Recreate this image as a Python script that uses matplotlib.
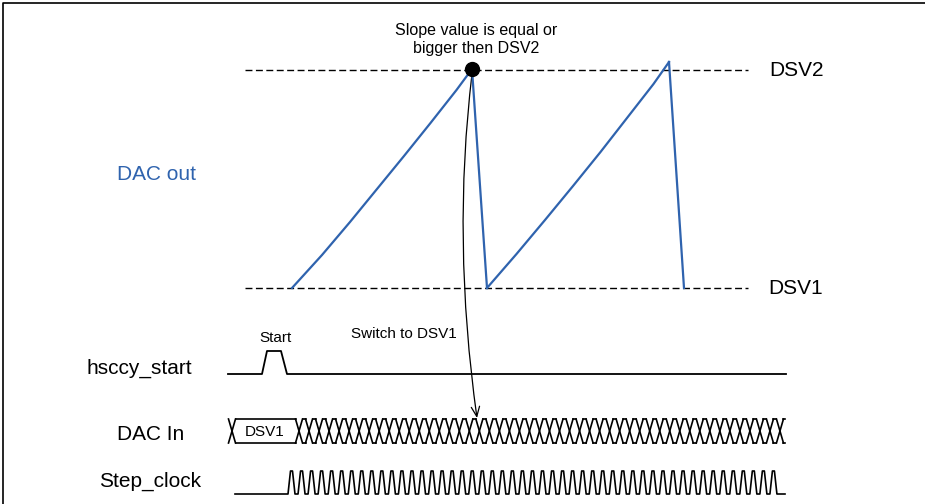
import numpy as np
import matplotlib.pyplot as plt
from matplotlib.path import Path
from matplotlib.patches import FancyArrowPatch

plt.rcParams['font.family'] = ['Liberation Sans', 'DejaVu Sans']

BLUE = '#2F63AE'

# levels (pixel rows of the drawing)
dsv2_y = 70
dsv1_y = 288
level_x = [245, 748]

# DAC out ramps (x, y)
ramp1_x = [292, 322, 350, 377, 404, 430.5, 456.5, 472]
ramp1_y = [288, 255, 222, 189, 156, 123, 90, 69]
drop1_x = [472, 487]
drop1_y = [69, 288]
ramp2_x = [487, 516.5, 545, 573, 600.5, 627, 653.5, 669]
ramp2_y = [288, 254, 220, 186, 152, 118, 84, 62]
drop2_x = [669, 684]
drop2_y = [62, 288]

# hsccy_start pulse
start_x = [228, 262, 267, 281, 287, 786]
start_y = [374, 374, 351, 351, 374, 374]

# DAC In bus
bus_top, bus_bot = 419, 443
bus_first = 299
bus_period = 10.02
bus_n = 49
bus_end = 785

# Step_clock
clk_low, clk_high = 494, 471
clk_start = 288
clk_period = 10.04
clk_n = 49

fig = plt.figure(figsize=(9.25, 5.04), dpi=100)
ax = fig.add_axes([0, 0, 1, 1])
ax.set_xlim(0, 925)
ax.set_ylim(504, 0)
ax.axis('off')

# frame
ax.plot([3, 3, 925], [504, 3, 3], color='black', lw=1.2)

# dashed levels
for yy in (dsv2_y, dsv1_y):
    ax.plot(level_x, [yy, yy], color='black', lw=1.0, dashes=(5, 2.5))
ax.text(769, dsv2_y + 1, 'DSV2', fontsize=15, va='center', ha='left')
ax.text(768, dsv1_y + 1, 'DSV1', fontsize=15, va='center', ha='left')

# DAC out
for xs, ys in ((ramp1_x, ramp1_y), (drop1_x, drop1_y), (ramp2_x, ramp2_y), (drop2_x, drop2_y)):
    ax.plot(xs, ys, color=BLUE, lw=1.6, solid_joinstyle='round')
ax.text(117, 174, 'DAC out', fontsize=15, color=BLUE, va='center', ha='left')

ax.plot([472], [69], 'o', color='black', ms=10)
ax.text(476, 30, 'Slope value is equal or', fontsize=11.5, ha='center', va='center')
ax.text(476, 49, 'bigger then DSV2', fontsize=11.5, ha='center', va='center')

# curved arrow
arrow_path = Path([(472, 74), (452, 240), (477, 418)], [Path.MOVETO, Path.CURVE3, Path.CURVE3])
ax.add_patch(FancyArrowPatch(path=arrow_path, arrowstyle='->,head_length=7,head_width=3',
                             color='black', lw=0.9))

# hsccy_start
ax.plot(start_x, start_y, color='black', lw=1.3)
ax.text(275, 338, 'Start', fontsize=11, ha='center', va='center')
ax.text(351, 334, 'Switch to DSV1', fontsize=11, ha='left', va='center')
ax.text(86, 368, 'hsccy_start', fontsize=15, ha='left', va='center')

# DAC In bus
hw = 3.5
crosses = [232] + [bus_first + k * bus_period for k in range(bus_n)]
for c in crosses:
    ax.plot([c - hw, c + hw], [bus_top, bus_bot], color='black', lw=1.2)
    ax.plot([c - hw, c + hw], [bus_bot, bus_top], color='black', lw=1.2)
for a, b in zip(crosses[:-1], crosses[1:]):
    ax.plot([a + hw, b - hw], [bus_top, bus_top], color='black', lw=1.2)
    ax.plot([a + hw, b - hw], [bus_bot, bus_bot], color='black', lw=1.2)
ax.plot([crosses[-1] + hw, bus_end], [bus_top, bus_top], color='black', lw=1.2)
ax.plot([crosses[-1] + hw, bus_end], [bus_bot, bus_bot], color='black', lw=1.2)
ax.text(265, 432, 'DSV1', fontsize=11, ha='center', va='center')
ax.text(117, 434, 'DAC In', fontsize=15, ha='left', va='center')

# Step_clock
cx = [235, clk_start]
cy = [clk_low, clk_low]
for k in range(clk_n):
    t = clk_start + k * clk_period
    cx += [t + 2.5, t + 4.5, t + 7, t + clk_period]
    cy += [clk_high, clk_high, clk_low, clk_low]
cx.append(785)
cy.append(clk_low)
ax.plot(cx, cy, color='black', lw=1.2)
ax.text(99, 481, 'Step_clock', fontsize=15, ha='left', va='center')

fig.savefig('out.png', dpi=100)
